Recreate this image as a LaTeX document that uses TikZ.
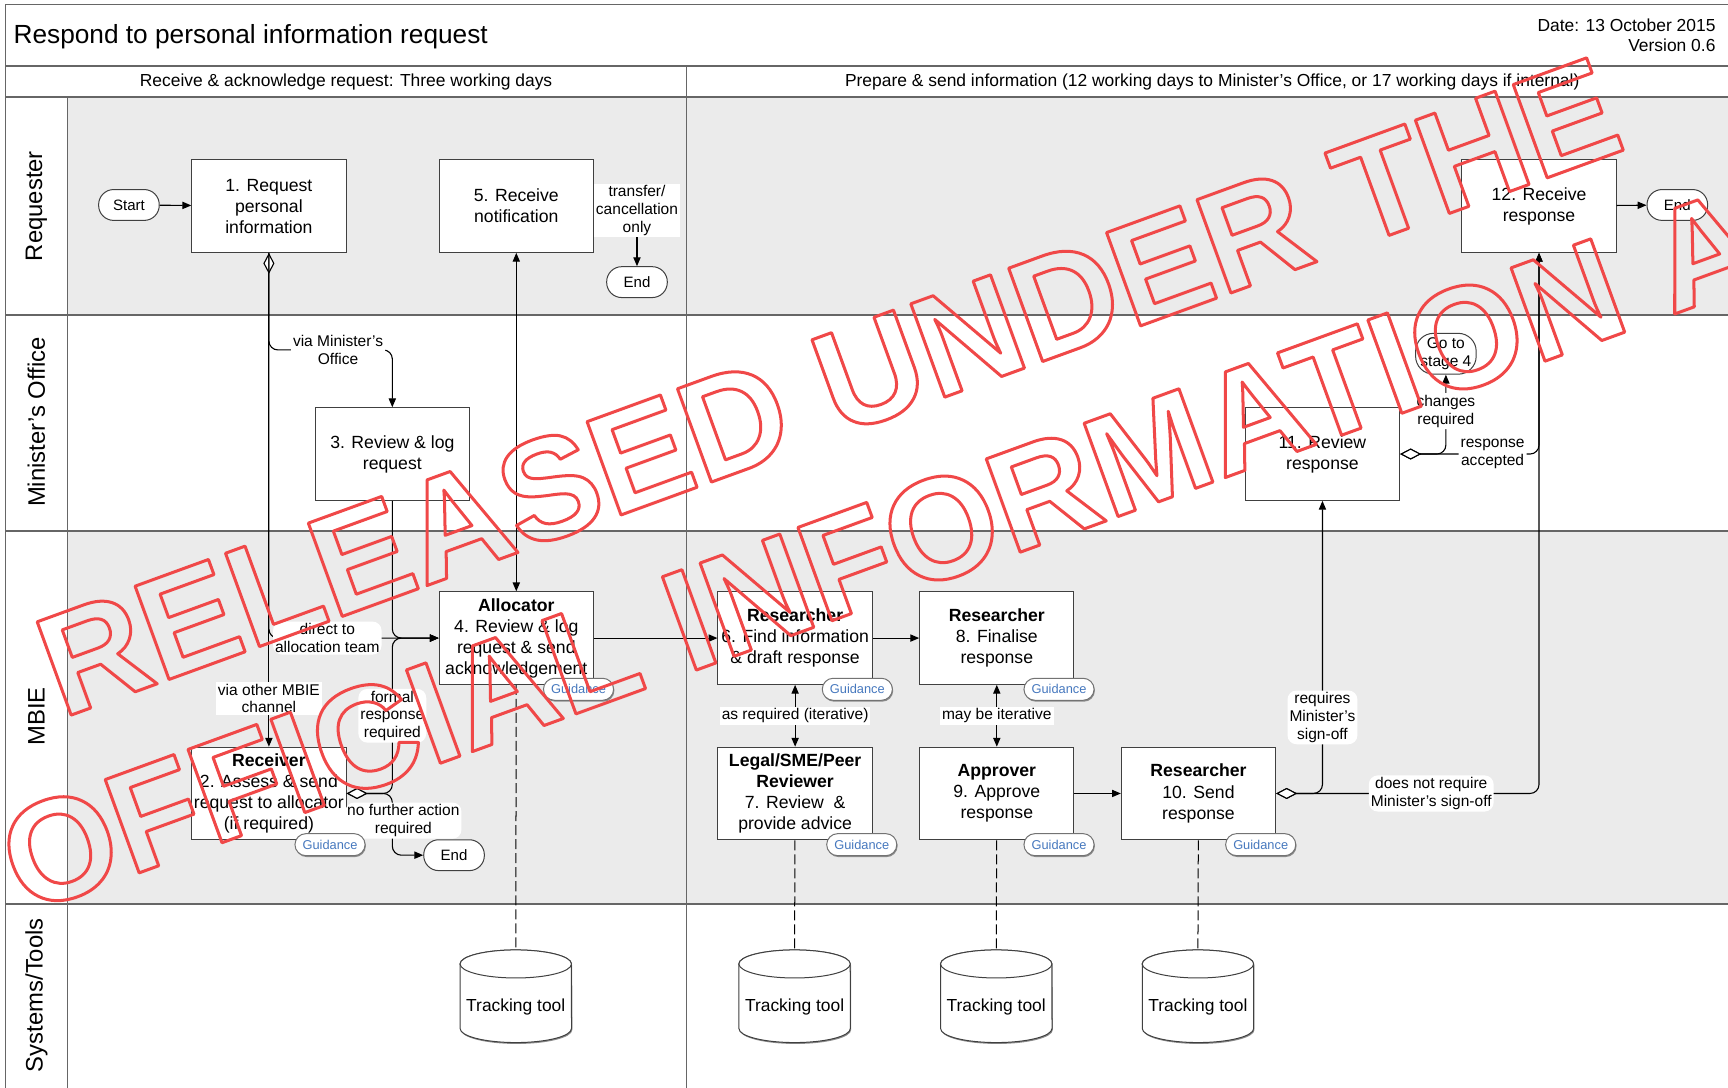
\documentclass[tikz,border=0pt]{standalone}
\usepackage{fontspec}
\setmainfont{Liberation Sans}
\newfontfamily\wmfont{Liberation Sans}[BoldFont={Liberation Sans Bold}]
\usetikzlibrary{arrows.meta,calc,shadows}
\definecolor{lanegray}{RGB}{235,235,235}
\definecolor{guideblue}{RGB}{70,120,190}
\definecolor{wmred}{RGB}{240,72,72}
\newcommand\outlined[1]{\special{pdf:literal direct 1 Tr 1.5 w 1 j}#1\special{pdf:literal direct 0 Tr}}

\begin{document}
\begin{tikzpicture}[x=0.55pt,y=-0.55pt,
  box/.style={draw=black!75,fill=white,line width=0.5pt,minimum width=77pt,minimum height=46.2pt,inner sep=1pt,align=center,font=\fontsize{8.8}{10.5}\selectfont},
  term/.style={draw=black!75,fill=white,line width=0.5pt,rounded corners=7.5pt,minimum width=30.25pt,minimum height=15.4pt,inner sep=1pt,align=center,font=\fontsize{7.5}{8.8}\selectfont},
  lbl/.style={fill=white,inner sep=1pt,align=center,font=\fontsize{7.75}{8.8}\selectfont},
  shade/.style={drop shadow={shadow xshift=0.4pt,shadow yshift=-0.7pt,fill=black!45,opacity=1}},
  guide/.style={shade,draw=black!55,fill=white,line width=0.5pt,rounded corners=5.5pt,minimum width=35pt,minimum height=11pt,inner sep=0pt,text=guideblue,font=\fontsize{6.4}{7}\selectfont},
  lane/.style={rotate=90,font=\fontsize{11.9}{13}\selectfont},
  tool/.style={minimum width=55.55pt,minimum height=57.2pt,inner sep=0pt,font=\fontsize{8.7}{10}\selectfont},
  cyl/.style={draw=black!75,fill=white,line width=0.5pt},
  flow/.style={draw,line width=0.55pt,-{Triangle[length=4.4pt,width=3.6pt]}},
  both/.style={flow,{Triangle[length=4.4pt,width=3.6pt]}-{Triangle[length=4.4pt,width=3.6pt]}},
  dia/.style={flow,{Diamond[fill=white,length=10.5pt,width=5.5pt]}-{Triangle[length=4.4pt,width=3.6pt]}},
  tie/.style={draw,line width=0.5pt,dash pattern=on 5pt off 2pt},
  sep/.style={draw=black!60,line width=0.7pt},
  wm/.style={anchor=base west,rotate=20,inner sep=0pt,text=wmred,font=\wmfont\bfseries\fontsize{72}{72}\selectfont}]
\path[use as bounding box,clip] (0,0) rectangle (1568,987);
\fill[lanegray] (61,88) rectangle (1600,286);
\fill[lanegray] (61,482) rectangle (1600,820);
\draw[sep] (5,4) rectangle (1600,1000);
\draw[sep] (5,60) -- (1600,60) (5,88) -- (1600,88);
\draw[sep] (5,286) -- (1600,286) (5,482) -- (1600,482);
\draw[sep,line width=1pt] (5,820) -- (1600,820);
\draw[black!60,line width=0.5pt] (61,88) -- (61,1000) (623,60) -- (623,1000);

\node[anchor=west,inner sep=0pt,font=\fontsize{13.1}{15}\selectfont] (ttl) at (12,33) {Respond to personal information request};
\node[anchor=east,inner sep=0pt,align=right,font=\fontsize{8.7}{10.45}\selectfont] (dt) at (1557,32) {Date: 13 October 2015\\Version 0.6};
\node[font=\fontsize{8.7}{10}\selectfont] (h1) at (314,74) {Receive \& acknowledge request: Three working days};
\node[font=\fontsize{8.7}{10}\selectfont] (h2) at (1100,74) {Prepare \& send information (12 working days to Minister’s Office, or 17 working days if internal)};
\node[lane] (l1) at (33,187) {Requester};
\node[lane] (l2) at (33,383) {Minister’s Office};
\node[lane] (l3) at (33,650) {MBIE};
\node[lane] (l4) at (33,903) {Systems/Tools};

\node[term] (st) at (117,186) {Start};
\node[box] (s1) at (244,187) {1. Request\\personal\\information};
\node[box] (s5) at (468.5,187) {5. Receive\\notification};
\node[term] (e1) at (578,256) {End};
\node[box] (s12) at (1396.5,187) {12. Receive\\response};
\node[term] (e2) at (1522,186) {End};
\node[box] (s3) at (356,412) {3. Review \& log\\request};
\node[box] (s11) at (1200,412) {11. Review\\response};
\node[term,rounded corners=9pt,minimum height=20.4pt,font=\fontsize{7.75}{8.8}\selectfont] (go) at (1312,321) {Go to\\stage 4};
\node[box] (s4) at (468.5,579) {\textbf{Allocator}\\4. Review \& log\\request \& send\\acknowledgement};
\node[box] (s2) at (244,720) {\textbf{Receiver}\\2. Assess \& send\\request to allocator\\(if required)};
\node[term] (e3) at (412,776) {End};
\node[box] (s6) at (721.5,579) {\textbf{Researcher}\\6. Find information\\\& draft response};
\node[box] (s8) at (904.5,579) {\textbf{Researcher}\\8. Finalise\\response};
\node[box] (s7) at (721.5,720) {\textbf{Legal/SME/Peer}\\\textbf{Reviewer}\\7. Review~~\&\\provide advice};
\node[box] (s9) at (904.5,720) {\textbf{Approver}\\9. Approve\\response};
\node[box] (s10) at (1087.5,720) {\textbf{Researcher}\\10. Send\\response};

\draw[flow] (st) -- (s1);
\draw[dia] (s1.south) -- node[lbl,pos=0.902]{via other MBIE\\channel} (s2.north);
\draw[flow,rounded corners=4.5pt] (s1.south) |- node[lbl,pos=0.78]{via Minister’s\\Office} ($(s3.north)+(0,-52)$) -- (s3.north);
\draw[flow,rounded corners=4.5pt] (s1.south) |- node[lbl,pos=0.672]{direct to\\allocation team} (s4.west);
\draw[flow,rounded corners=4.5pt] (s3.south) |- (s4.west);
\draw[dia,rounded corners=4.5pt] (s2.east) -- (s3.south |- s2.east) |- node[lbl,pos=0.25]{formal\\response\\required} (s4.west);
\draw[dia,rounded corners=4.5pt] (s2.east) -- (s3.south |- s2.east) |- node[lbl,pos=0.22,xshift=5.5pt]{no further action\\required} (e3.west);
\draw[both] (s4) -- (s5);
\draw[flow] (s5.east) -| node[lbl,yshift=-2.2pt]{transfer/\\cancellation\\only} (e1.north);
\draw[flow] (s4) -- (s6);
\draw[flow] (s6) -- (s8);
\draw[both] (s6) -- node[lbl]{as required (iterative)} (s7);
\draw[both] (s8) -- node[lbl]{may be iterative} (s9);
\draw[flow] (s9) -- (s10);
\draw[dia,rounded corners=4.5pt] (s10.east) -| node[lbl,pos=0.63]{requires\\Minister’s\\sign-off} (s11.south);
\draw[dia,rounded corners=4.5pt] (s10.east) -| node[lbl,pos=0.295]{does not require\\Minister’s sign-off} (s12.south);
\draw[dia,rounded corners=4.5pt] (s11.east) -| node[lbl,pos=0.333]{response\\accepted} (s12.south);
\draw[dia,rounded corners=4.5pt] (s11.east) -| node[lbl,pos=0.77]{changes\\required} (go.south);
\draw[flow] (s12) -- (e2);

\foreach \n/\dx in {2/-15,4/-14,6/-14,7/-10,8/-14,9/-14,10/-14}
  \node[guide] (g\n) at ($(s\n.south east)+(\dx,4)$) {Guidance};

\foreach \n/\x in {1/468,2/721,3/904,4/1087}{
  \filldraw[cyl,shade] (\x-50.5,874.7) -- (\x-50.5,933.3) arc[start angle=180,end angle=360,x radius=27.8pt,y radius=7pt] -- (\x+50.5,874.7) arc[start angle=0,end angle=180,x radius=27.8pt,y radius=7pt] -- cycle;
  \draw[cyl] (\x,874.7) ellipse[x radius=27.8pt,y radius=7pt];
  \node[tool] (t\n) at (\x,914) {Tracking tool};
}
\foreach \a/\b in {4/1,7/2,9/3,10/4}
  \draw[tie] (s\a) -- (t\b.north);

\node[wm] (w1) at (56,652) {\outlined{RELEASED UNDER THE}};
\node[wm] (w2) at (22,830) {\outlined{OFFICIAL INFORMATION ACT}};
\end{tikzpicture}
\end{document}
